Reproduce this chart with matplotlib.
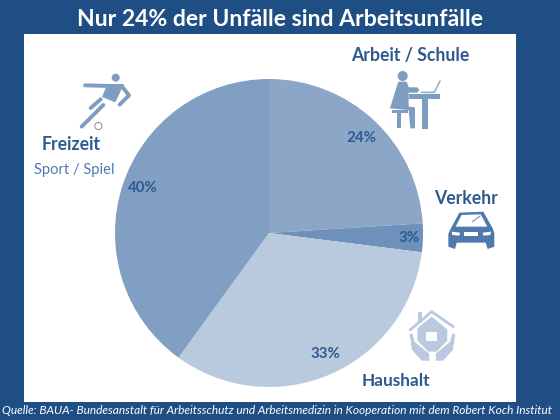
import matplotlib
matplotlib.use("Agg")
import matplotlib.pyplot as plt
from matplotlib.patches import Rectangle, Polygon, Circle

categories = ["Arbeit / Schule", "Verkehr", "Haushalt", "Freizeit"]
shares = [24, 3, 33, 40]
slice_colors = ["#8BA6C7", "#6F90BB", "#B9CADF", "#819EC3"]
title = "Nur 24% der Unfälle sind Arbeitsunfälle"
subtitle = "Sport / Spiel"
source = "Quelle: BAUA- Bundesanstalt für Arbeitsschutz und Arbeitsmedizin in Kooperation mit dem Robert Koch Institut"

NAVY = "#1F4E85"
DARK = "#2F5A8F"
ICON = "#7F9CC1"
W, H = 560, 420

fig = plt.figure(figsize=(5.6, 4.2), dpi=100, facecolor=NAVY)
plt.rcParams["font.family"] = ["Lato", "DejaVu Sans"]

bg = fig.add_axes([0, 0, 1, 1], zorder=0)
bg.set_xlim(0, W); bg.set_ylim(H, 0); bg.axis("off")
bg.add_patch(Rectangle((24, 34), 492, 368, fc="white", ec="none"))

# pie
cx, cy, r = 269, 233, 154
pie_ax = fig.add_axes([(cx - r) / W, 1 - (cy + r) / H, 2 * r / W, 2 * r / H], zorder=1)
pie_ax.pie(shares, colors=slice_colors, startangle=90, counterclock=False, radius=1,
           wedgeprops=dict(linewidth=0))
pie_ax.set_xlim(-1, 1); pie_ax.set_ylim(-1, 1)

ov = fig.add_axes([0, 0, 1, 1], zorder=2)
ov.set_xlim(0, W); ov.set_ylim(H, 0); ov.axis("off"); ov.patch.set_alpha(0)

def T(x, y, s, size, color=DARK, weight="bold", style="normal", ha="center"):
    ov.text(x, y, s, fontsize=size, color=color, fontweight=weight, fontstyle=style,
            ha=ha, va="center", family=["Lato", "DejaVu Sans"])

T(280, 20, title, 16.55, color="white")
T(2, 411, source, 8.58, color="white", weight="normal", style="italic", ha="left")

T(410.5, 56, categories[0], 12.7)
T(465.5, 198.5, categories[1], 12.7)
T(395.5, 380.5, categories[2], 12.4)
T(71.5, 144.5, categories[3], 12.7)
T(74.5, 170, subtitle, 10.6, color="#4F79AC", weight="normal")

pct_pos = [(361, 137.5), (409, 238.5), (325, 354.5), (143, 187.5)]
for (x, y), v in zip(pct_pos, shares):
    T(x, y, f"{v}%", 10.8)

# icon helpers: coordinates given in zoomed (3x) crops
def mk(ox, oy):
    return lambda pts: [(ox + a / 3, oy + b / 3) for a, b in pts]

def line(p, color=ICON, lw=3.0):
    xs, ys = zip(*p)
    ov.plot(xs, ys, color=color, lw=lw, solid_capstyle="round", solid_joinstyle="round")

# desk figure
m = mk(340, 30)
ov.add_patch(Circle(m([(188, 138)])[0], 5, fc=ICON, ec="none"))
ov.add_patch(Polygon(m([(175, 155), (200, 155), (206, 172), (232, 172), (238, 180), (232, 188),
                        (206, 188), (206, 230), (225, 232), (225, 295), (211, 295), (206, 240),
                        (150, 235), (170, 170)]), fc=ICON, ec="none"))
for a, b, c, d in [(208, 192, 300, 207), (245, 207, 265, 297), (155, 240, 205, 249), (172, 249, 182, 295)]:
    (x0, y0), (x1, y1) = m([(a, b), (c, d)])
    ov.add_patch(Rectangle((x0, y0), x1 - x0, y1 - y0, fc=ICON, ec="none"))
line(m([(245, 187), (283, 187), (300, 153)]), lw=1.2, color="#9AB0CE")

# car
ov.add_patch(Polygon(m([(330, 600), (358, 548), (430, 545), (458, 595), (463, 610), (463, 650), (443, 657),
                        (437, 638), (350, 638), (345, 657), (325, 650), (325, 612)]),
                     fc="#4F79AC", ec="none"))
ov.add_patch(Polygon(m([(347, 590), (365, 555), (422, 553), (442, 590)]), fc="white", ec="none"))
ov.add_patch(Polygon(m([(372, 605), (415, 605), (415, 618), (372, 618)]), fc="white", ec="none"))
ov.add_patch(Polygon(m([(335, 605), (360, 608), (358, 617), (337, 615)]), fc="white", ec="none"))
ov.add_patch(Polygon(m([(453, 605), (428, 608), (430, 617), (451, 615)]), fc="white", ec="none"))
line(m([(397, 575), (420, 558)]), lw=0.9, color="#7F9CC1")

# footballer
m = mk(20, 50)
ov.add_patch(Circle(m([(287, 83)])[0], 4, fc=ICON, ec="none"))
ov.add_patch(Polygon(m([(262, 102), (312, 102), (286, 157), (246, 141)]), fc=ICON, ec="none"))
line(m([(195, 106), (270, 108)]), lw=2.8)
line(m([(305, 108), (327, 136), (299, 164)]), lw=2.8)
line(m([(242, 148), (212, 174)]), lw=2.8)
line(m([(250, 165), (185, 230)]), lw=2.8)
ov.add_patch(Circle(m([(235, 228)])[0], 3.6, fc="white", ec="#8A8F96", lw=0.7))

# house in hands
m = mk(340, 300)
HC = "#B9CADF"
line(m([(210, 90), (275, 35), (340, 80)]), color=HC, lw=2.0)
(x0, y0), (x1, y1) = m([(233, 35), (247, 68)])
ov.add_patch(Rectangle((x0, y0), x1 - x0, y1 - y0, fc=HC, ec="none"))
ov.add_patch(Polygon(m([(232, 85), (275, 50), (322, 88), (322, 122), (290, 155), (265, 155), (232, 122)]),
                     fc=HC, ec="none"))
(x0, y0), (x1, y1) = m([(258, 95), (290, 122)])
ov.add_patch(Rectangle((x0, y0), x1 - x0, y1 - y0, fc="white", ec="none"))
ov.add_patch(Polygon(m([(207, 100), (218, 100), (225, 125), (268, 160), (270, 183), (245, 183), (215, 150)]),
                     fc=HC, ec="white", lw=0.5))
ov.add_patch(Polygon(m([(347, 100), (336, 100), (329, 125), (287, 160), (285, 183), (310, 183), (340, 150)]),
                     fc=HC, ec="white", lw=0.5))

fig.savefig("out.png", dpi=100, facecolor=NAVY)
